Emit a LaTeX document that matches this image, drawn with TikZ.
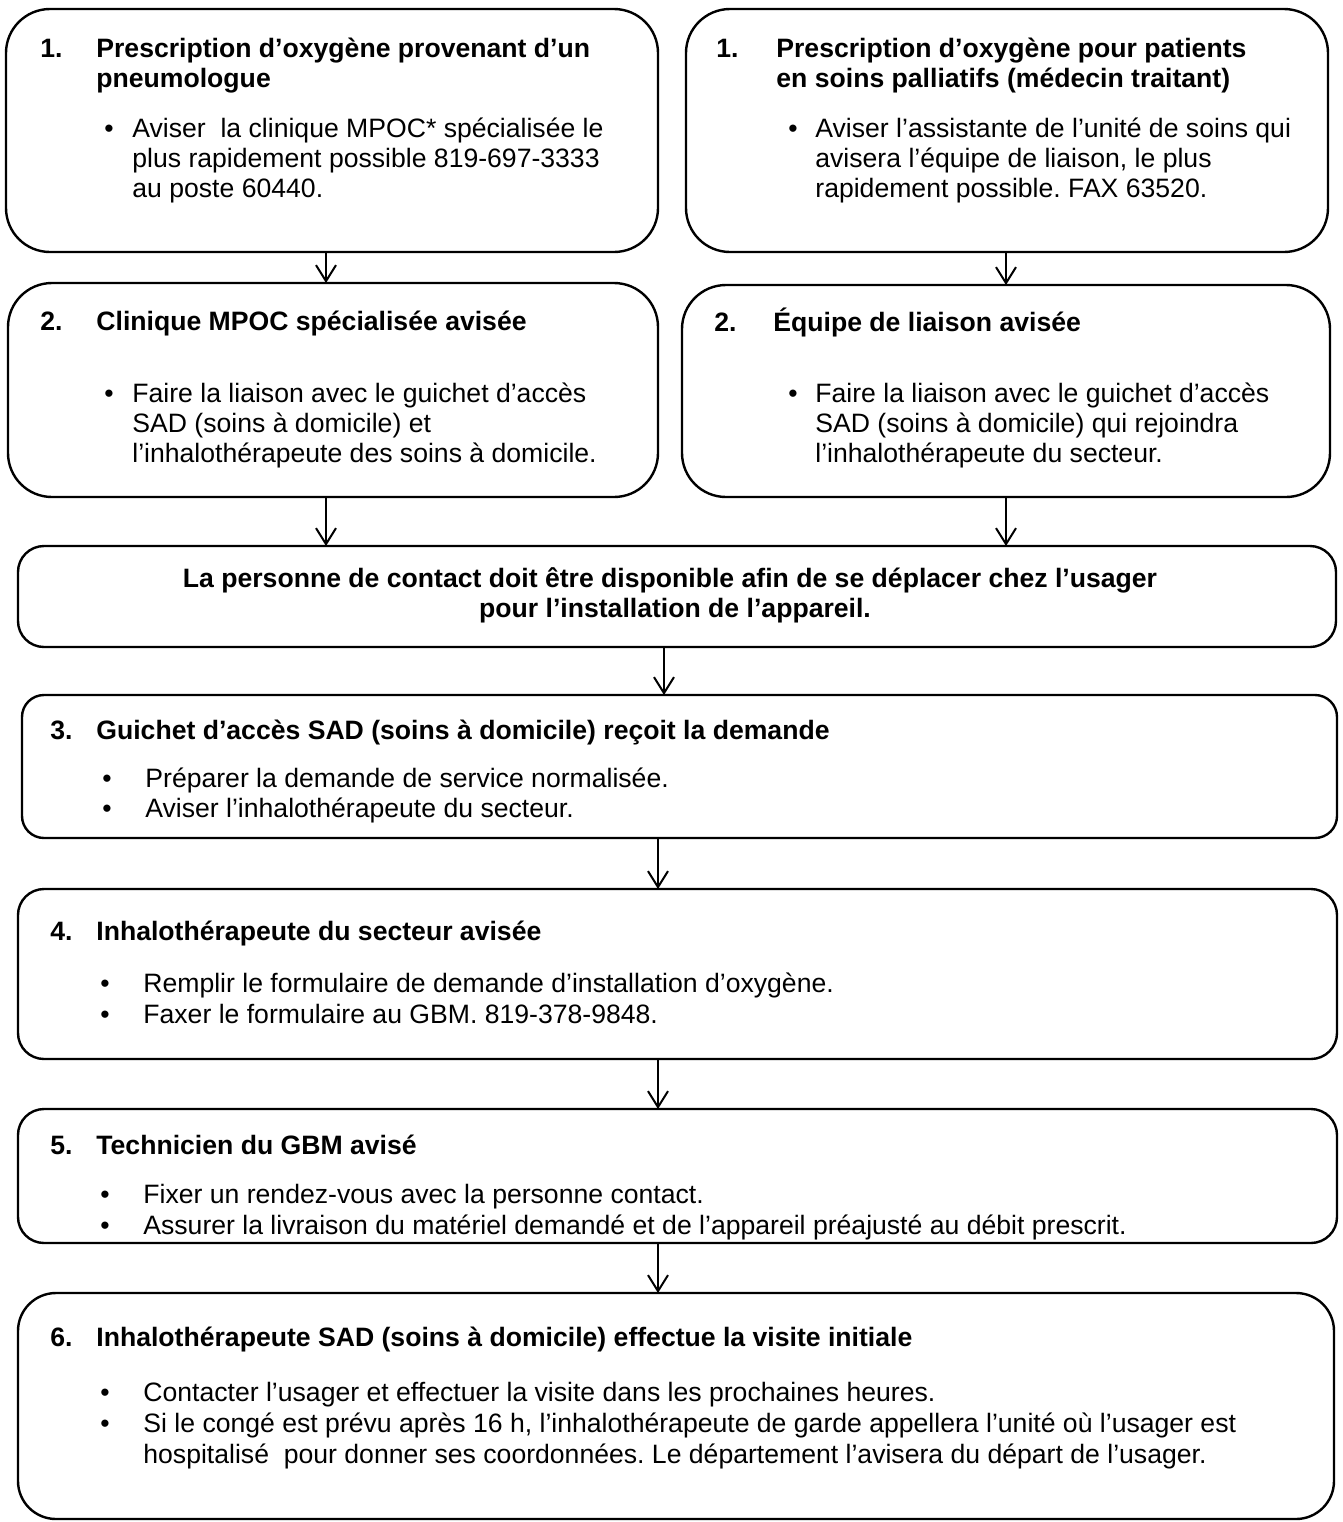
\documentclass[tikz,border=0pt]{standalone}
\usepackage{fontspec}
\setmainfont{Liberation Sans}
\usetikzlibrary{arrows.meta}
\frenchspacing
\begin{document}
\begin{tikzpicture}[x=0.5pt,y=-0.5pt,
  box/.style={draw, line width=1.2pt, inner sep=0pt, outer sep=0pt, anchor=north west},
  arr/.style={line width=1pt, -{Straight Barb[length=8pt,width=10pt,line width=1pt]}},
  tx/.style={anchor=base west, inner sep=0pt, font=\fontsize{13.3}{15}\selectfont},
  tb/.style={anchor=base west, inner sep=0pt, font=\fontsize{13.3}{15}\selectfont\bfseries},
  tc/.style={anchor=base, inner sep=0pt, font=\fontsize{13.3}{15}\selectfont\bfseries}]
\useasboundingbox (0,0) rectangle (1343,1522);

% boxes
\node[box, rounded corners=22pt, minimum width=326pt, minimum height=121.5pt] (b1l) at (6,9) {};
\node[box, rounded corners=22pt, minimum width=321pt, minimum height=121.5pt] (b1r) at (686,9) {};
\node[box, rounded corners=22pt, minimum width=325pt, minimum height=107pt] (b2l) at (8,283) {};
\node[box, rounded corners=22pt, minimum width=324pt, minimum height=106pt] (b2r) at (682,285) {};
\node[box, rounded corners=13pt, minimum width=659pt, minimum height=50.5pt] (bc) at (18,546) {};
\node[box, rounded corners=11pt, minimum width=657.5pt, minimum height=71.5pt] (b3) at (22,695) {};
\node[box, rounded corners=13pt, minimum width=659.5pt, minimum height=85pt] (b4) at (18,889) {};
\node[box, rounded corners=13pt, minimum width=659.5pt, minimum height=67pt] (b5) at (18,1109) {};
\node[box, rounded corners=19pt, minimum width=658pt, minimum height=113pt] (b6) at (18,1293) {};

% arrow columns
\coordinate (xl) at (326,0);
\coordinate (xr) at (1006,0);
\coordinate (xc) at (664,0);
\coordinate (xm) at (658,0);

\draw[arr] (b1l.south -| xl) -- (b2l.north -| xl);
\draw[arr] (b1r.south -| xr) -- (b2r.north -| xr);
\draw[arr] (b2l.south -| xl) -- (bc.north -| xl);
\draw[arr] (b2r.south -| xr) -- (bc.north -| xr);
\draw[arr] (bc.south -| xc) -- (b3.north -| xc);
\draw[arr] (b3.south -| xm) -- (b4.north -| xm);
\draw[arr] (b4.south -| xm) -- (b5.north -| xm);
\draw[arr] (b5.south -| xm) -- (b6.north -| xm);

% box 1 left
\node[tb] (n1l) at (40,57) {1.};
\node[tb] (h1l1) at (96,57) {Prescription d’oxygène provenant d’un};
\node[tb] (h1l2) at (96,87) {pneumologue};
\node[tx] (p1l) at (104,137) {\textbullet};
\node[tx] (t1l1) at (132,137) {Aviser\ \ la clinique MPOC* spécialisée le};
\node[tx] (t1l2) at (132,167) {plus rapidement possible 819-697-3333};
\node[tx] (t1l3) at (132,197) {au poste 60440.};

% box 1 right
\node[tb] (n1r) at (716,57) {1.};
\node[tb] (h1r1) at (776,57) {Prescription d’oxygène pour patients};
\node[tb] (h1r2) at (776,87) {en soins palliatifs (médecin traitant)};
\node[tx] (p1r) at (788,137) {\textbullet};
\node[tx] (t1r1) at (815,137) {Aviser l’assistante de l’unité de soins qui};
\node[tx] (t1r2) at (815,167) {avisera l’équipe de liaison, le plus};
\node[tx] (t1r3) at (815,197) {rapidement possible. FAX 63520.};

% box 2 left
\node[tb] (n2l) at (40,330) {2.};
\node[tb] (h2l) at (96,330) {Clinique MPOC spécialisée avisée};
\node[tx] (p2l) at (104,402) {\textbullet};
\node[tx] (t2l1) at (132,402) {Faire la liaison avec le guichet d’accès};
\node[tx] (t2l2) at (132,432) {SAD (soins à domicile) et};
\node[tx] (t2l3) at (132,462) {l’inhalothérapeute des soins à domicile.};

% box 2 right
\node[tb] (n2r) at (714,331) {2.};
\node[tb] (h2r) at (773,331) {Équipe de liaison avisée};
\node[tx] (p2r) at (788,402) {\textbullet};
\node[tx] (t2r1) at (815,402) {Faire la liaison avec le guichet d’accès};
\node[tx] (t2r2) at (815,432) {SAD (soins à domicile) qui rejoindra};
\node[tx] (t2r3) at (815,462) {l’inhalothérapeute du secteur.};

% contact box
\node[tc] (c1) at (670,587) {La personne de contact doit être disponible afin de se déplacer chez l’usager};
\node[tc] (c2) at (675,617) {pour l’installation de l’appareil.};

% box 3
\node[tb] (n3) at (50,739) {3.};
\node[tb] (h3) at (96,739) {Guichet d’accès SAD (soins à domicile) reçoit la demande};
\node[tx] (p3a) at (102,787) {\textbullet};
\node[tx] (t3a) at (145,787) {Préparer la demande de service normalisée.};
\node[tx] (p3b) at (102,817) {\textbullet};
\node[tx] (t3b) at (145,817) {Aviser l’inhalothérapeute du secteur.};

% box 4
\node[tb] (n4) at (50,940) {4.};
\node[tb] (h4) at (96,940) {Inhalothérapeute du secteur avisée};
\node[tx] (p4a) at (100,992) {\textbullet};
\node[tx] (t4a) at (143,992) {Remplir le formulaire de demande d’installation d’oxygène.};
\node[tx] (p4b) at (100,1023) {\textbullet};
\node[tx] (t4b) at (143,1023) {Faxer le formulaire au GBM. 819-378-9848.};

% box 5
\node[tb] (n5) at (50,1154) {5.};
\node[tb] (h5) at (96,1154) {Technicien du GBM avisé};
\node[tx] (p5a) at (100,1203) {\textbullet};
\node[tx] (t5a) at (143,1203) {Fixer un rendez-vous avec la personne contact.};
\node[tx] (p5b) at (100,1234) {\textbullet};
\node[tx] (t5b) at (143,1234) {Assurer la livraison du matériel demandé et de l’appareil préajusté au débit prescrit.};

% box 6
\node[tb] (n6) at (50,1346) {6.};
\node[tb] (h6) at (96,1346) {Inhalothérapeute SAD (soins à domicile) effectue la visite initiale};
\node[tx] (p6a) at (100,1401) {\textbullet};
\node[tx] (t6a) at (143,1401) {Contacter l’usager et effectuer la visite dans les prochaines heures.};
\node[tx] (p6b) at (100,1432) {\textbullet};
\node[tx] (t6b) at (143,1432) {Si le congé est prévu après 16 h, l’inhalothérapeute de garde appellera l’unité où l’usager est};
\node[tx] (t6c) at (143,1463) {hospitalisé\ \ pour donner ses coordonnées. Le département l’avisera du départ de l’usager.};
\end{tikzpicture}
\end{document}
